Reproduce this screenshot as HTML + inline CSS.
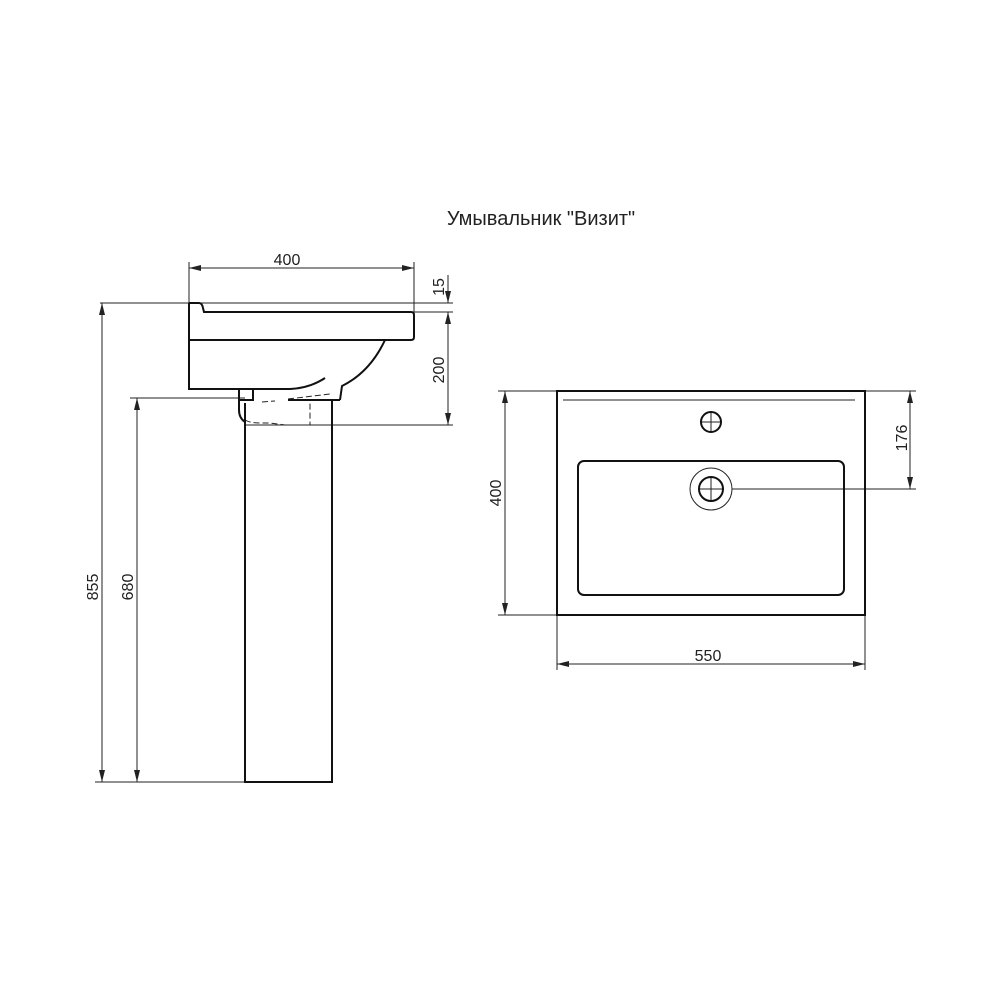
<!DOCTYPE html><html><head><style>body{margin:0;background:#fff}svg{display:block}text{font-family:"Liberation Sans",sans-serif;fill:#222}</style></head><body>
<svg width="1000" height="1000" viewBox="0 0 1000 1000">
<defs><marker id="a" viewBox="0 0 12 6" refX="12" refY="3" markerWidth="12" markerHeight="6" orient="auto-start-reverse" markerUnits="userSpaceOnUse"><path d="M0,0L12,3L0,6z" fill="#222"/></marker></defs>
<text x="541" y="225" font-size="20" text-anchor="middle">Умывальник "Визит"</text>
<g stroke="#222" fill="none" stroke-width="1">
<line x1="189" y1="262" x2="189" y2="303"/><line x1="414" y1="262" x2="414" y2="312"/>
<line x1="189" y1="268" x2="414" y2="268" marker-start="url(#a)" marker-end="url(#a)"/>
<line x1="100" y1="303" x2="453" y2="303"/><line x1="414" y1="312" x2="453" y2="312"/>
<line x1="448" y1="275" x2="448" y2="303" marker-end="url(#a)"/>
<line x1="448" y1="312" x2="448" y2="425" marker-start="url(#a)" marker-end="url(#a)"/>
<line x1="245" y1="425" x2="453" y2="425"/>
<line x1="102" y1="303" x2="102" y2="782" marker-start="url(#a)" marker-end="url(#a)"/>
<line x1="130" y1="398" x2="245" y2="398"/><line x1="95" y1="782" x2="245" y2="782"/>
<line x1="137" y1="398" x2="137" y2="782" marker-start="url(#a)" marker-end="url(#a)"/>
<line x1="498" y1="391" x2="557" y2="391"/><line x1="498" y1="615" x2="557" y2="615"/>
<line x1="505" y1="391" x2="505" y2="615" marker-start="url(#a)" marker-end="url(#a)"/>
<line x1="865" y1="391" x2="916" y2="391"/><line x1="732" y1="489" x2="916" y2="489"/>
<line x1="910" y1="391" x2="910" y2="489" marker-start="url(#a)" marker-end="url(#a)"/>
<line x1="557" y1="615" x2="557" y2="670"/><line x1="865" y1="615" x2="865" y2="670"/>
<line x1="557" y1="664" x2="865" y2="664" marker-start="url(#a)" marker-end="url(#a)"/>
<line x1="563" y1="400" x2="855" y2="400"/>
<circle cx="711" cy="489" r="21"/><line x1="700" y1="422" x2="722" y2="422"/><line x1="711" y1="411" x2="711" y2="433"/>
<line x1="700" y1="489" x2="722" y2="489"/><line x1="711" y1="478" x2="711" y2="500"/>
<path d="M262,402 L275,401 M288,399 L330,394 M245,420 Q250,423 260,423 L270,423 L285,425 L310,425 L310,402" stroke-dasharray="6,3"/>
</g>
<g stroke="#111" fill="none" stroke-width="2">
<rect x="557" y="391" width="308" height="224"/>
<rect x="578" y="461" width="266" height="134" rx="6"/>
<circle cx="711" cy="422" r="10"/><circle cx="711" cy="489" r="12"/>
<path d="M189,303 L199,303 Q202,303 203,308 L204,312 L411,312 Q414,312 414,315 L414,337 Q414,340 411,340 L189,340"/>
<path d="M189,303 L189,389 L290,389 Q310,388 325,378"/>
<path d="M385,340 Q370,372 342,386 L340,400"/>
<path d="M239,389 L239,410 Q239,418 245,422 M239,400 L253,400 L253,389 M288,400 L340,400"/>
<path d="M245,403 L245,782 L332,782 L332,400"/>
</g>
<g font-size="16">
<text x="287" y="265" text-anchor="middle">400</text>
<text x="708" y="661" text-anchor="middle">550</text>
<text transform="translate(444,287) rotate(-90)" text-anchor="middle">15</text>
<text transform="translate(444,370) rotate(-90)" text-anchor="middle">200</text>
<text transform="translate(98,587) rotate(-90)" text-anchor="middle">855</text>
<text transform="translate(133,587) rotate(-90)" text-anchor="middle">680</text>
<text transform="translate(501,493) rotate(-90)" text-anchor="middle">400</text>
<text transform="translate(907,438) rotate(-90)" text-anchor="middle">176</text>
</g>
</svg></body></html>
